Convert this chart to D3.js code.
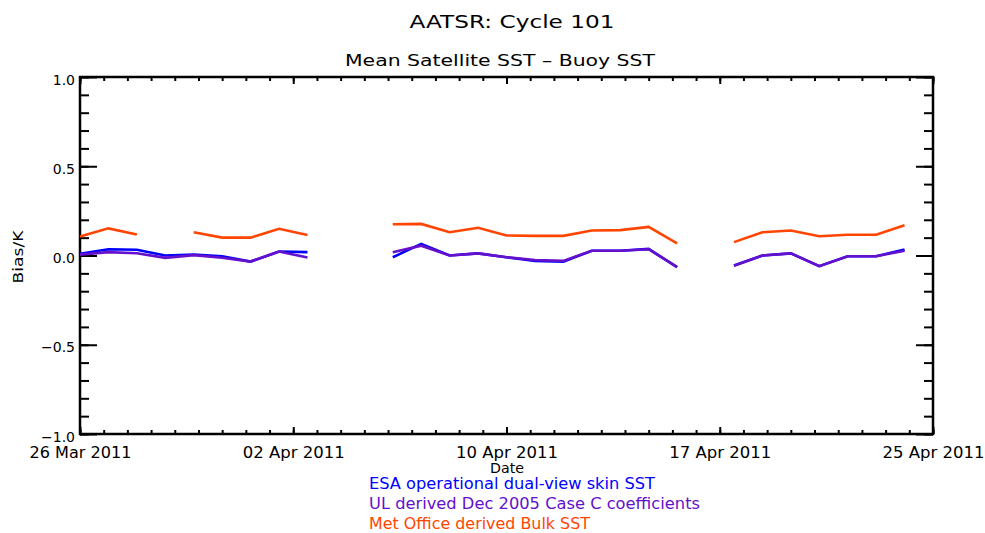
<!DOCTYPE html>
<html lang="en">
<head>
<meta charset="UTF-8">
<title>AATSR: Cycle 101</title>
<script src="https://cdn.jsdelivr.net/npm/d3@7"></script>
<style>
  body { margin: 0; background: #fff; }
  svg { display: block; font-family: "DejaVu Sans", sans-serif; }
</style>
</head>
<body>
<svg width="985" height="533"></svg>
<script>
// daily means, 26 Mar 2011 .. 24 Apr 2011 (null = no data)
var dates = ["2011-03-26","2011-03-27","2011-03-28","2011-03-29","2011-03-30","2011-03-31",
  "2011-04-01","2011-04-02","2011-04-03","2011-04-04","2011-04-05","2011-04-06","2011-04-07",
  "2011-04-08","2011-04-09","2011-04-10","2011-04-11","2011-04-12","2011-04-13","2011-04-14",
  "2011-04-15","2011-04-16","2011-04-17","2011-04-18","2011-04-19","2011-04-20","2011-04-21",
  "2011-04-22","2011-04-23","2011-04-24"];

var esa = [0.010, 0.035, 0.032, 0.000, 0.006, -0.004, -0.034, 0.022, 0.019, null, null,
  -0.010, 0.065, 0.000, 0.012, -0.010, -0.030, -0.035, 0.027, 0.027, 0.037, -0.065, null,
  -0.056, 0.000, 0.012, -0.060, -0.004, -0.004, 0.034];

var ul = [0.005, 0.019, 0.013, -0.013, 0.002, -0.013, -0.034, 0.022, -0.011, null, null,
  0.018, 0.055, 0.000, 0.012, -0.010, -0.025, -0.030, 0.027, 0.027, 0.035, -0.065, null,
  -0.057, 0.000, 0.012, -0.060, -0.004, -0.004, 0.027];

var metOffice = [0.107, 0.152, 0.118, null, 0.130, 0.100, 0.100, 0.150, 0.115, null, null,
  0.175, 0.177, 0.130, 0.155, 0.112, 0.110, 0.110, 0.140, 0.142, 0.160, 0.068, null,
  0.075, 0.130, 0.140, 0.108, 0.116, 0.116, 0.170];

var xTickLabels = ["26 Mar 2011", "02 Apr 2011", "10 Apr 2011", "17 Apr 2011", "25 Apr 2011"];
var yTicks = [-1.0, -0.5, 0.0, 0.5, 1.0];
var seriesNames = ["ESA operational dual-view skin SST",
  "UL derived Dec 2005 Case C coefficients",
  "Met Office derived Bulk SST"];

var colors = ["#0000ff", "#6410cc", "#ff4500"];

var plotL = 80, plotR = 933, plotT = 77, plotB = 434;
var svg = d3.select("svg");
var parse = d3.utcParse("%Y-%m-%d");
var t0 = Date.UTC(2011, 2, 26), t1 = Date.UTC(2011, 3, 25);

var x = d3.scaleUtc().domain([new Date(t0), new Date(t1)]).range([plotL, plotR]);
var y = d3.scaleLinear().domain([-1, 1]).range([plotB, plotT]);

// IDL style: 4 equal major intervals (7.5 days), 9 minor per major
var step = (t1 - t0) / 4;
var majors = d3.range(5).map(function (i) { return new Date(t0 + i * step); });
var minors = d3.range(37).map(function (i) { return new Date(t0 + i * step / 9); });
var yMinors = d3.range(21).map(function (i) { return -1 + i * 0.1; });

function clean(g) {
  g.select(".domain").remove();
  g.selectAll(".tick line").attr("stroke", "#000").attr("stroke-width", 2);
}

// bottom
svg.append("g").attr("transform", "translate(0," + plotB + ")")
  .call(d3.axisBottom(x).tickValues(minors).tickSize(-4).tickFormat("")).call(clean);
svg.append("g").attr("transform", "translate(0," + plotB + ")")
  .call(d3.axisBottom(x).tickValues(majors).tickSize(-7).tickPadding(13)
    .tickFormat(function (d, i) { return xTickLabels[i]; }))
  .call(clean)
  .selectAll("text").attr("font-size", 15).attr("fill", "#000")
  .attr("font-family", "DejaVu Sans")
  .attr("textLength", 102).attr("lengthAdjust", "spacingAndGlyphs");
// top
svg.append("g").attr("transform", "translate(0," + plotT + ")")
  .call(d3.axisTop(x).tickValues(minors).tickSize(-4).tickFormat("")).call(clean);
svg.append("g").attr("transform", "translate(0," + plotT + ")")
  .call(d3.axisTop(x).tickValues(majors).tickSize(-7).tickFormat("")).call(clean);
// left
svg.append("g").attr("transform", "translate(" + plotL + ",0)")
  .call(d3.axisLeft(y).tickValues(yMinors).tickSize(-9).tickFormat("")).call(clean);
svg.append("g").attr("transform", "translate(" + plotL + ",0)")
  .call(d3.axisLeft(y).tickValues(yTicks).tickSize(-17).tickPadding(5)
    .tickFormat(function (d) { return d3.format(".1f")(d).replace("-", "\u2212"); }))
  .call(clean)
  .selectAll("text").attr("font-size", 14).attr("fill", "#000")
  .attr("font-family", "DejaVu Sans").attr("dy", "0.5em");
// right
svg.append("g").attr("transform", "translate(" + plotR + ",0)")
  .call(d3.axisRight(y).tickValues(yMinors).tickSize(-9).tickFormat("")).call(clean);
svg.append("g").attr("transform", "translate(" + plotR + ",0)")
  .call(d3.axisRight(y).tickValues(yTicks).tickSize(-17).tickFormat("")).call(clean);

svg.append("rect")
  .attr("x", plotL).attr("y", plotT)
  .attr("width", plotR - plotL).attr("height", plotB - plotT)
  .attr("fill", "none").attr("stroke", "#000").attr("stroke-width", 2.5);

// data lines
var line = d3.line()
  .defined(function (d) { return d.v !== null; })
  .x(function (d) { return x(d.t); })
  .y(function (d) { return y(d.v); });

[esa, ul, metOffice].forEach(function (vals, k) {
  var pts = dates.map(function (s, i) { return { t: parse(s), v: vals[i] }; });
  svg.append("path").datum(pts)
    .attr("d", line)
    .attr("fill", "none")
    .attr("stroke", colors[k])
    .attr("stroke-width", 2.6);
});

// titles
svg.append("text").attr("x", 512).attr("y", 28).attr("text-anchor", "middle")
  .attr("font-size", 18).attr("textLength", 205).attr("lengthAdjust", "spacingAndGlyphs")
  .text("AATSR: Cycle 101");
svg.append("text").attr("x", 500).attr("y", 66).attr("text-anchor", "middle")
  .attr("font-size", 15).attr("textLength", 310).attr("lengthAdjust", "spacingAndGlyphs")
  .text("Mean Satellite SST \u2013 Buoy SST");
svg.append("text").attr("x", 507).attr("y", 473).attr("text-anchor", "middle")
  .attr("font-size", 14).attr("textLength", 34).attr("lengthAdjust", "spacingAndGlyphs")
  .text("Date");
svg.append("text").attr("transform", "translate(23,257) rotate(-90)")
  .attr("text-anchor", "middle").attr("font-size", 14)
  .attr("textLength", 53).attr("lengthAdjust", "spacingAndGlyphs")
  .text("Bias/K");

// legend
var legendWidths = [286, 331, 221];
seriesNames.forEach(function (name, k) {
  svg.append("text").attr("x", 369).attr("y", 489 + k * 20)
    .attr("font-size", 15).attr("fill", colors[k])
    .attr("textLength", legendWidths[k]).attr("lengthAdjust", "spacingAndGlyphs")
    .text(name);
});
</script>
</body>
</html>
